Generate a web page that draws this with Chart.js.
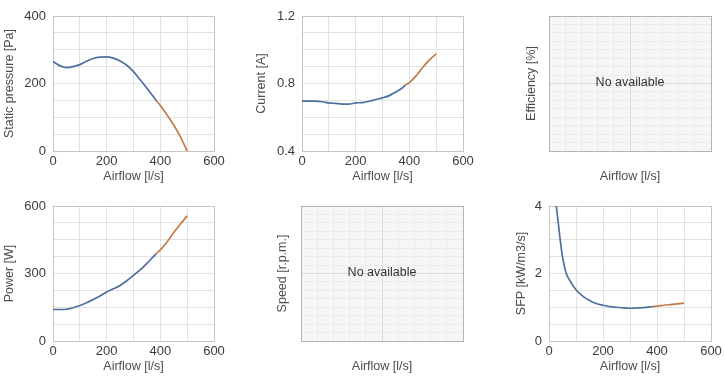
<!DOCTYPE html>
<html><head><meta charset="utf-8">
<script src="https://cdn.jsdelivr.net/npm/chart.js@4.4.1/dist/chart.umd.min.js"></script>
<style>
html,body{margin:0;padding:0;background:#fff;}
body{width:725px;height:382px;position:relative;overflow:hidden;}
.cell{position:absolute;}
canvas{display:block;}
</style></head><body>
<div class="cell" style="left:0;top:0"><canvas id="c1" width="240" height="190"></canvas></div>
<div class="cell" style="left:240px;top:0"><canvas id="c2" width="240" height="190"></canvas></div>
<div class="cell" style="left:480px;top:0"><canvas id="c3" width="245" height="190"></canvas></div>
<div class="cell" style="left:0;top:190px"><canvas id="c4" width="240" height="192"></canvas></div>
<div class="cell" style="left:240px;top:190px"><canvas id="c5" width="240" height="192"></canvas></div>
<div class="cell" style="left:480px;top:190px"><canvas id="c6" width="245" height="192"></canvas></div>
<script>
// ---- data ----
const airflow = [0,25,50,75,100,125,150,175,200,225,250,275,300,325,350,375,385,400,425,450,475,500];
const staticPressure = [265,253,247,250,256,266,274,278,279,275,267,254,235,211,186,160,149,135,107,77,42,0];
const current = [0.695,0.695,0.695,0.692,0.685,0.682,0.678,0.678,0.685,0.687,0.695,0.705,0.715,0.728,0.75,0.775,0.79,0.805,0.845,0.895,0.94,0.975];
const power = [140,140,141,148,158,170,184,200,218,232,247,268,292,316,345,376,388,405,440,482,520,556];
const sfpAirflow = [27,35,43,50,64,75,100,125,150,175,200,225,250,275,300,325,350,375,385,400,425,450,475,500];
const sfp = [4.0,3.45,2.9,2.5,2.0,1.82,1.52,1.33,1.2,1.11,1.06,1.02,1.0,0.98,0.97,0.98,0.99,1.01,1.02,1.03,1.06,1.08,1.1,1.12];
const splitAirflow = 385;
const xTicks = [0,200,400,600];
const yTicksPressure = [0,200,400];
const yTicksCurrent = [0.4,0.8,1.2];
const yTicksPower = [0,300,600];
const yTicksSfp = [0,2,4];
const noDataText = 'No available';

// ---- styling ----
const BLUE = '#4f6f9e', ORANGE = '#c27a46';
const FONT = "'Liberation Sans', Arial, sans-serif";
const tickFont = {family: FONT, size: 13};
const titleFont = {family: FONT, size: 12.5, lineHeight: 1.2};

const framePlugin = {
  id: 'frame',
  beforeDraw(chart, args, o) {
    if (o.bg) {
      const a = chart.chartArea, c = chart.ctx;
      c.save(); c.fillStyle = o.bg; c.fillRect(a.left, a.top, a.right - a.left, a.bottom - a.top); c.restore();
    }
  },
  beforeDatasetsDraw(chart, args, o) {
    const a = chart.chartArea, c = chart.ctx;
    c.save(); c.strokeStyle = o.color || '#c4c4c4'; c.lineWidth = 1;
    c.strokeRect(Math.round(a.left) + 0.5, Math.round(a.top) + 0.5, Math.round(a.right) - Math.round(a.left), Math.round(a.bottom) - Math.round(a.top));
    if (o.text) {
      c.fillStyle = '#333'; c.font = '12.5px ' + FONT; c.textAlign = 'center'; c.textBaseline = 'middle';
      c.fillText(o.text, (a.left + a.right) / 2, (a.top + a.bottom) / 2 - 1);
    }
    c.restore();
  }
};
Chart.register(framePlugin);

function makeChart(id, g, yTitle, series) {
  const isEmpty = !series;
  const xs = {
    type: 'linear',
    min: isEmpty ? 0 : xTicks[0], max: isEmpty ? 10 : xTicks[xTicks.length - 1],
    afterFit(s) { s.height = g.xh; s.paddingLeft = 0; s.paddingRight = 0; },
    border: {display: false},
    grid: {drawTicks: false,
      color: isEmpty ? (c => c.tick && c.tick.value === 5 ? '#dadada' : '#ebebeb') : '#e2e2e2'},
    ticks: isEmpty ? {display: false, stepSize: 1} : {
      stepSize: (xTicks[1] - xTicks[0]) / 2, autoSkip: false, padding: 3, color: '#3c3c3c', font: tickFont, maxRotation: 0,
      callback: v => xTicks.includes(v) ? String(v) : ''
    },
    title: {display: true, text: 'Airflow [l/s]', color: '#4d4d4d', font: titleFont, padding: {top: 0, bottom: g.xtp}}
  };
  let ys;
  if (isEmpty) {
    ys = {min: 0, max: 16, ticks: {display: false, stepSize: 1},
      grid: {drawTicks: false, color: c => c.tick && c.tick.value === 8 ? '#dadada' : '#ebebeb'}};
  } else {
    const yt = series.yTicks, step = (yt[1] - yt[0]) / 4;
    ys = {min: yt[0], max: yt[yt.length - 1],
      ticks: {stepSize: step, autoSkip: false, padding: 7, color: '#3c3c3c', font: tickFont,
        callback: (v, i) => i % 4 === 0 ? (series.dec ? v.toFixed(series.dec) : String(Math.round(v))) : ''},
      grid: {drawTicks: false, color: '#e2e2e2'}};
  }
  ys.type = 'linear';
  ys.border = {display: false};
  ys.afterFit = s => { s.width = g.yw; s.paddingTop = 0; s.paddingBottom = 0; };
  ys.title = {display: true, text: yTitle, color: '#4d4d4d', font: titleFont, padding: {top: g.ytp, bottom: 0}};

  const datasets = isEmpty ? [] : [{
    data: series.x.map((x, i) => ({x, y: series.y[i]})),
    borderColor: BLUE, borderWidth: 1.7, pointRadius: 0, fill: false,
    cubicInterpolationMode: 'monotone',
    segment: {borderColor: c => c.p0.parsed.x >= splitAirflow ? ORANGE : BLUE}
  }];

  new Chart(document.getElementById(id), {
    type: 'line',
    data: {datasets},
    options: {
      responsive: false, animation: false, events: [],
      layout: {padding: {top: g.top, right: g.right, bottom: 0, left: 0}},
      plugins: {legend: {display: false}, tooltip: {enabled: false},
        frame: isEmpty ? {bg: '#f6f6f6', color: '#b4b4b4', text: noDataText} : {color: '#c6c6c6'}},
      scales: {x: xs, y: ys}
    }
  });
}

const row1 = {top: 16, xh: 39, xtp: 5.5};
const row2 = {top: 16, xh: 41, xtp: 7.8};
makeChart('c1', {...row1, yw: 53, right: 26, ytp: 2.5}, 'Static pressure [Pa]', {x: airflow, y: staticPressure, yTicks: yTicksPressure});
makeChart('c2', {...row1, yw: 62, right: 17, ytp: 14.5}, 'Current [A]', {x: airflow, y: current, yTicks: yTicksCurrent, dec: 1});
makeChart('c3', {...row1, yw: 69, right: 14, ytp: 44.2}, 'Efficiency [%]', null);
makeChart('c4', {...row2, yw: 53, right: 26, ytp: 2.5}, 'Power [W]', {x: airflow, y: power, yTicks: yTicksPower});
makeChart('c5', {...row2, yw: 61, right: 17, ytp: 35.5}, 'Speed [r.p.m.]', null);
makeChart('c6', {...row2, yw: 69, right: 14, ytp: 34.2}, 'SFP [kW/m3/s]', {x: sfpAirflow, y: sfp, yTicks: yTicksSfp});
</script>
</body></html>
